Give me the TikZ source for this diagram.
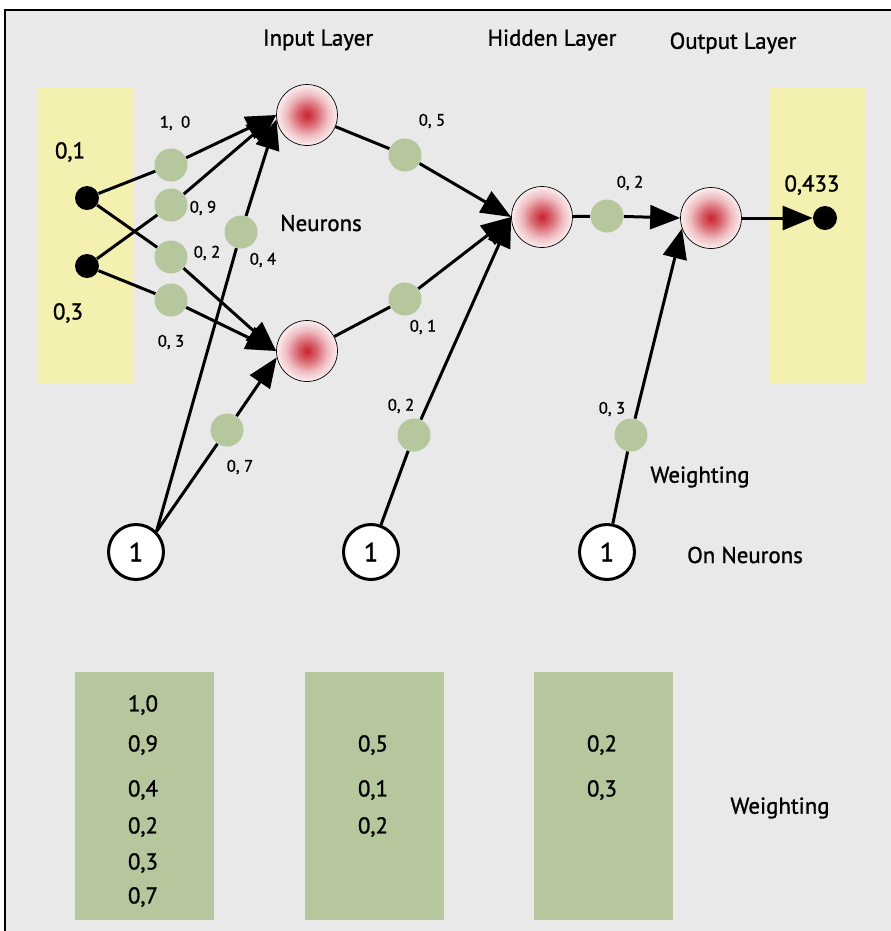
\documentclass[tikz,border=0pt]{standalone}
\usepackage{fontspec}
\setmainfont{PT Sans}[FakeBold=1.2]
\usetikzlibrary{arrows.meta}
\definecolor{bggray}{RGB}{233,233,233}
\definecolor{pale}{RGB}{243,240,176}
\definecolor{sage}{RGB}{182,199,158}
\definecolor{core}{RGB}{200,35,48}
\pgfdeclareradialshading{neuronshade}{\pgfpointorigin}{color(0bp)=(core); color(8bp)=(core!70!white); color(17bp)=(core!30!white); color(25bp)=(core!8!white); color(50bp)=(core!8!white)}
\tikzset{
  neuron/.style={circle,draw,thin,minimum size=1.22cm,inner sep=0pt,shading=neuronshade},
  wt/.style={circle,fill=sage,minimum size=0.66cm,inner sep=0pt},
  dot/.style={circle,fill=black,minimum size=0.48cm,inner sep=0pt},
  bias/.style={circle,draw,fill=white,line width=1.7pt,minimum size=1.1cm,inner sep=0pt,font=\fontsize{15}{17}\selectfont},
  conn/.style={line width=1.7pt},
  arr/.style={conn,-{Triangle[length=0.6cm,width=0.48cm]}},
  txt/.style={font=\fontsize{13}{15}\selectfont},
  wlab/.style={font=\fontsize{9.5}{11}\selectfont}
}
\begin{document}
\begin{tikzpicture}[x=0.02cm,y=-0.02cm]
    \useasboundingbox (0,0) rectangle (891,931);
    \fill[bggray] (5,10) rectangle (891,931);
    \draw[line width=1pt] (5,931) -- (5,10) -- (891,10);
    \fill[pale] (38,88) rectangle (133,383);
    \fill[pale] (770,88) rectangle (866,383);
    \foreach \x in {75,305,534}
    {
    \fill[sage] (\x,672) rectangle (\x+139,920);
    }
    \node[txt] (inlay) at (318,40) {Input Layer};
    \node[txt] (hidlay) at (552,40) {Hidden Layer};
    \node[txt] (outlay) at (733,43) {Output Layer};
    \node[txt] (neur) at (321,223) {Neurons};
    \node[txt] (wtg) at (700,477) {Weighting};
    \node[txt] (onneur) at (745,555) {On Neurons};
    \node[txt] (wtgb) at (780,808) {Weighting};
    \node[txt] (xa) at (70,152) {0,1};
    \node[txt] (xb) at (68,313) {0,3};
    \node[txt] (yout) at (812,185) {0,433};
    \node[dot] (in1) at (87,198) {};
    \node[dot] (in2) at (87,266) {};
    \node[neuron] (n1) at (307,115) {};
    \node[neuron] (n2) at (307,351) {};
    \node[neuron] (hid) at (542,217) {};
    \node[neuron] (outn) at (711,218) {};
    \node[dot] (res) at (825,218) {};
    \node[bias] (b1) at (136,552) {1};
    \node[bias] (b2) at (371,552) {1};
    \node[bias] (b3) at (607,552) {1};
    \node[wt] (w1) at (171,165) {};
    \node[wt] (w2) at (171,205) {};
    \node[wt] (w3) at (171,257) {};
    \node[wt] (w4) at (171,300) {};
    \node[wt] (w5) at (241,232) {};
    \node[wt] (w6) at (227,430) {};
    \node[wt] (w7) at (405,155) {};
    \node[wt] (w8) at (405,299) {};
    \node[wt] (w9) at (414,435) {};
    \node[wt] (w10) at (607,216) {};
    \node[wt] (w11) at (631,435) {};
    \draw[arr] (in1) -- (w1) -- (n1.west);
    \draw[arr] (in2) -- (w2) -- (n1.west);
    \draw[arr] (in1) -- (w3) -- (n2.west);
    \draw[arr] (in2) -- (w4) -- (n2.west);
    \draw[arr] (b1.45) -- (w5) -- (n1.188);
    \draw[arr] (b1.45) -- (w6) -- (n2.192);
    \draw[arr] (n1) -- (w7) -- (hid.west);
    \draw[arr] (n2) -- (w8) -- (hid.west);
    \draw[arr] (b2) -- (w9) -- (hid.west);
    \draw[arr] (hid) -- (w10) -- (outn.west);
    \draw[arr] (b3) -- (w11) -- (outn.200);
    \draw[arr] (outn) -- (res);
    \node[wlab] (l1) at (175,123) {1,\enspace 0};
    \node[wlab] (l2) at (203,208) {0, 9};
    \node[wlab] (l3) at (207,253) {0, 2};
    \node[wlab] (l4) at (263,260) {0, 4};
    \node[wlab] (l5) at (171,342) {0, 3};
    \node[wlab] (l6) at (240,467) {0, 7};
    \node[wlab] (l7) at (432,121) {0, 5};
    \node[wlab] (l8) at (423,327) {0, 1};
    \node[wlab] (l9) at (401,406) {0, 2};
    \node[wlab] (l10) at (630,183) {0, 2};
    \node[wlab] (l11) at (612,409) {0, 3};
    \foreach \y/\v in {705/{1,0},745/{0,9},790/{0,4},827/{0,2},863/{0,3},897/{0,7}}
    {
    \node[txt] at (143,\y) {\v};
    }
    \foreach \y/\v in {745/{0,5},790/{0,1},827/{0,2}}
    {
    \node[txt] at (373,\y) {\v};
    }
    \foreach \y/\v in {745/{0,2},790/{0,3}}
    {
    \node[txt] at (602,\y) {\v};
    }
\end{tikzpicture}
\end{document}
